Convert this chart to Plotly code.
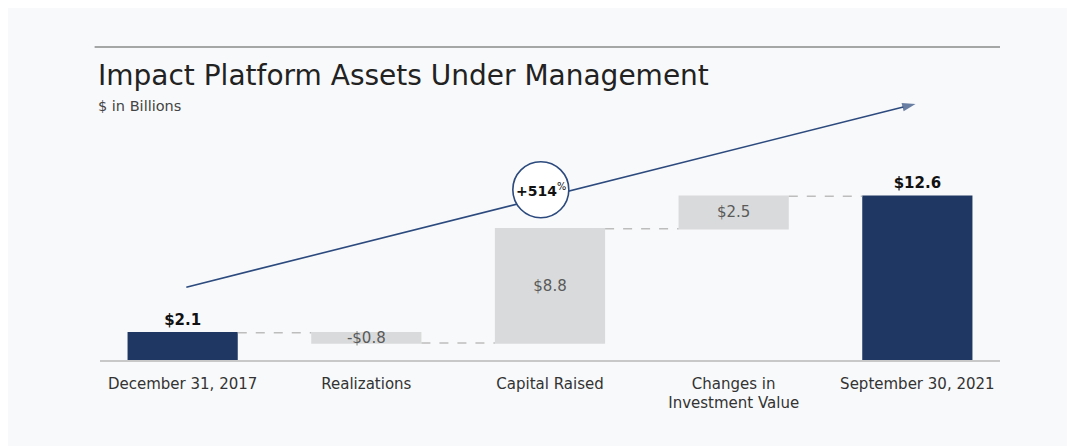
import plotly.graph_objects as go

# Waterfall data ($ in billions)
categories = ["December 31, 2017", "Realizations", "Capital Raised",
              "Changes in<br>Investment Value", "September 30, 2021"]
measures = ["absolute", "relative", "relative", "relative", "total"]
values = [2.1, -0.8, 8.8, 2.5, 12.6]
growth_label = "+514"

NAVY = "#1f3863"
ARROW = "#2c4a7e"
GREY = "#d9dadb"
BG = "#f8f9fa"
FONT = "DejaVu Sans, Liberation Sans, Arial, sans-serif"

labels = []
for m, v in zip(measures, values):
    txt = f"-${abs(v):.1f}" if v < 0 else f"${v:.1f}"
    labels.append(f"<b>{txt}</b>" if m != "relative" else txt)
positions = ["outside" if m != "relative" else "inside" for m in measures]
xpos = list(range(len(categories)))

fig = go.Figure()

fig.add_trace(go.Waterfall(
    x=xpos, y=values, measure=measures,
    text=labels, textposition=positions, constraintext="none",
    insidetextanchor="middle",
    insidetextfont=dict(size=15, color="#5a5a5a"),
    outsidetextfont=dict(size=15, color="#111111"),
    increasing=dict(marker=dict(color=GREY)),
    decreasing=dict(marker=dict(color=GREY)),
    totals=dict(marker=dict(color=NAVY)),
    connector=dict(line=dict(color="#bdbdbd", width=1.5, dash="dash")),
    width=0.6, cliponaxis=False, hoverinfo="skip",
))

# growth arrow
fig.add_trace(go.Scatter(
    x=[0.02, 3.99], y=[5.6, 19.7], mode="lines+markers",
    line=dict(color=ARROW, width=1.6),
    marker=dict(symbol="arrow", size=[0, 14], angleref="previous", color=ARROW,
                line=dict(width=0)),
    hoverinfo="skip", cliponaxis=False,
))

# circle badge over the arrow
fig.add_shape(type="circle", xref="x", yref="y", xsizemode="pixel", ysizemode="pixel",
              xanchor=1.95, yanchor=13.1, x0=-28, x1=28, y0=-28, y1=28,
              fillcolor="white", line=dict(color=ARROW, width=1.6), layer="above")
fig.add_annotation(x=1.95, y=13.1, xref="x", yref="y", showarrow=False,
                   text=f"<b>{growth_label}</b><sup>%</sup>",
                   font=dict(size=14, color="#111111"))

# title rule, title and subtitle
fig.add_shape(type="line", xref="paper", yref="paper", x0=-0.006, x1=1.0, y0=1.204, y1=1.204,
              line=dict(color="#8a8a8a", width=1.5))
fig.add_annotation(x=-0.004, y=1.096, xref="paper", yref="paper", xanchor="left", yanchor="middle",
                   showarrow=False, text="Impact Platform Assets Under Management",
                   font=dict(size=28, color="#222222"))
fig.add_annotation(x=-0.004, y=0.977, xref="paper", yref="paper", xanchor="left", yanchor="middle",
                   showarrow=False, text="$ in Billions",
                   font=dict(size=14.5, color="#444444"))

fig.update_layout(
    width=1075, height=446,
    margin=dict(l=92, r=83, t=92, b=94),
    paper_bgcolor=BG, plot_bgcolor=BG,
    font=dict(family=FONT),
    showlegend=False,
)
fig.update_xaxes(range=[-0.45, 4.45], tickvals=xpos, ticktext=categories,
                 showline=True, linecolor="#c8c8c8", linewidth=1.5, showgrid=False, zeroline=False,
                 ticks="", tickfont=dict(size=15, color="#333333"), ticklabelstandoff=9)
fig.update_yaxes(range=[0, 20], visible=False, showgrid=False, zeroline=False)

fig.write_html("out.html")
